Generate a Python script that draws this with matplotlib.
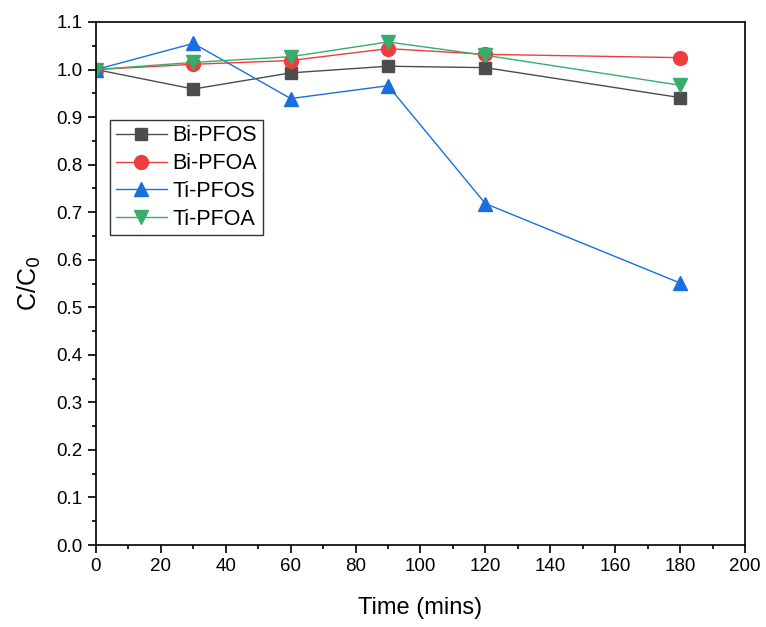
import matplotlib
matplotlib.use("Agg")
import matplotlib.pyplot as plt
from matplotlib.ticker import MultipleLocator

plt.rcParams['font.family'] = ['Liberation Sans', 'DejaVu Sans']

time_min = [0, 30, 60, 90, 120, 180]
bi_pfos = [1.0, 0.959, 0.993, 1.007, 1.004, 0.941]
bi_pfoa = [1.0, 1.011, 1.019, 1.044, 1.032, 1.025]
ti_pfos = [1.0, 1.055, 0.939, 0.966, 0.718, 0.551]
ti_pfoa = [1.0, 1.015, 1.027, 1.058, 1.030, 0.967]

fig = plt.figure(figsize=(7.66, 6.27), dpi=100)
ax = fig.add_axes([96/766, 1-545/627, (745-96)/766, (545-22)/627])

ax.plot(time_min, bi_pfos, color="#4d4d4d", marker="s", ms=9, lw=1, label="Bi-PFOS")
ax.plot(time_min, bi_pfoa, color="#f03c3c", marker="o", ms=10, lw=1, label="Bi-PFOA")
ax.plot(time_min, ti_pfos, color="#1a6fdf", marker="^", ms=10, lw=1, label="Ti-PFOS")
ax.plot(time_min, ti_pfoa, color="#37ad6b", marker="v", ms=10, lw=1, label="Ti-PFOA")

ax.set_xlim(0, 200)
ax.set_ylim(0, 1.1)
ax.xaxis.set_major_locator(MultipleLocator(20))
ax.xaxis.set_minor_locator(MultipleLocator(10))
ax.yaxis.set_major_locator(MultipleLocator(0.1))
ax.yaxis.set_minor_locator(MultipleLocator(0.05))
ax.yaxis.set_major_formatter(plt.FormatStrFormatter('%.1f'))
ax.tick_params(which='major', direction='out', length=6, width=1.2, labelsize=13.5)
ax.tick_params(which='minor', direction='out', length=3, width=1.2)
for s in ax.spines.values():
    s.set_linewidth(1.2)

ax.set_xlabel("Time (mins)", fontsize=17, labelpad=16)
ax.set_ylabel("C/C$_0$", fontsize=18, labelpad=10)

leg = ax.legend(loc='upper left', bbox_to_anchor=(0.022, 0.813), fontsize=15.5,
                frameon=True, fancybox=False, edgecolor='black',
                handlelength=2.4, handletextpad=0.25, borderpad=0.25,
                labelspacing=0.32, borderaxespad=0)
leg.get_frame().set_linewidth(1)

fig.savefig("out.png", dpi=100)
